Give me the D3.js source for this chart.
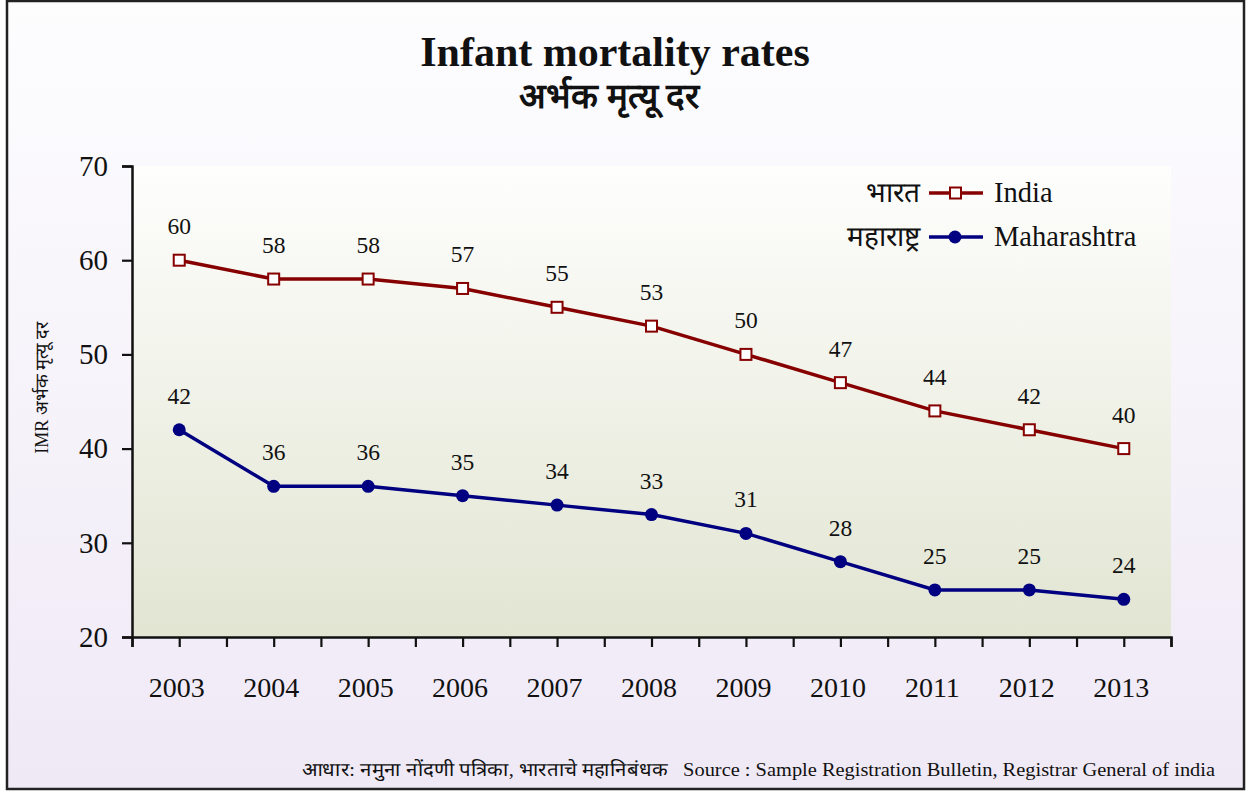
<!DOCTYPE html>
<html>
<head>
<meta charset="utf-8">
<script src="https://cdn.jsdelivr.net/npm/d3@7"></script>
<style>
  body { margin: 0; background: #fff; }
  text { font-family: "Liberation Serif", "Times New Roman", serif; fill: #111; }
</style>
</head>
<body>
<div id="chart"></div>
<script>
// data
const years = [2003, 2004, 2005, 2006, 2007, 2008, 2009, 2010, 2011, 2012, 2013]
const india = [60, 58, 58, 57, 55, 53, 50, 47, 44, 42, 40]
const maharashtra = [42, 36, 36, 35, 34, 33, 31, 28, 25, 25, 24]
const yTicks = [20, 30, 40, 50, 60, 70]

const W = 1247, H = 792
const margin = {top: 166, right: 76, bottom: 155, left: 132}
const width = W - margin.left - margin.right,
      height = H - margin.top - margin.bottom

const svg = d3.select("#chart").append("svg")
  .attr("width", W).attr("height", H)

const defs = svg.append("defs")
const bgGrad = defs.append("linearGradient").attr("id", "bg").attr("x1", 0).attr("y1", 0).attr("x2", 0).attr("y2", 1)
bgGrad.append("stop").attr("offset", "0%").attr("stop-color", "#fdfdfe")
bgGrad.append("stop").attr("offset", "100%").attr("stop-color", "#efe9f6")
const plotGrad = defs.append("linearGradient").attr("id", "plotbg").attr("x1", 0).attr("y1", 0).attr("x2", 0).attr("y2", 1)
plotGrad.append("stop").attr("offset", "0%").attr("stop-color", "#fefefd")
plotGrad.append("stop").attr("offset", "100%").attr("stop-color", "#e2e5d2")

// outer frame
svg.append("rect")
  .attr("x", 7).attr("y", 1).attr("width", W - 10).attr("height", H - 4)
  .attr("fill", "url(#bg)").attr("stroke", "#222").attr("stroke-width", 2.5)

// titles
svg.append("text").attr("x", 615).attr("y", 66).attr("text-anchor", "middle")
  .style("font-size", "42px").style("font-weight", "bold").text("Infant mortality rates")
svg.append("text").attr("x", 609).attr("y", 108).attr("text-anchor", "middle")
  .style("font-size", "35px").style("font-weight", "bold").text("अर्भक मृत्यू दर")

const g = svg.append("g").attr("transform", "translate(" + margin.left + "," + margin.top + ")")

g.append("rect").attr("width", width).attr("height", height).attr("fill", "url(#plotbg)")

// scales
const x = d3.scaleLinear().domain([2002.5, 2013.5]).range([0, width])
const y = d3.scaleLinear().domain([20, 70]).range([height, 0])

// x axis: ticks at every year and at the half years between them
const xTickVals = d3.range(2002.5, 2013.51, 0.5)
const xAxis = g.append("g").attr("transform", "translate(0," + height + ")")
  .call(d3.axisBottom(x).tickValues(xTickVals).tickSize(10).tickSizeOuter(10)
    .tickFormat(d => Number.isInteger(d) ? d : ""))
xAxis.select(".domain").attr("stroke-width", 2.5).attr("stroke", "#111")
xAxis.selectAll(".tick line").attr("stroke-width", 2.2).attr("stroke", "#111")
xAxis.selectAll(".tick text").attr("dy", "0").attr("y", 60).attr("dx", -3).style("font-size", "28px")
  .style("font-family", "Liberation Serif, serif").attr("fill", "#111")

const yAxis = g.append("g")
  .call(d3.axisLeft(y).tickValues(yTicks).tickSize(10).tickSizeOuter(10).tickPadding(14))
yAxis.select(".domain").attr("stroke-width", 2.5).attr("stroke", "#111")
yAxis.selectAll(".tick line").attr("stroke-width", 2.2).attr("stroke", "#111")
yAxis.selectAll(".tick text").style("font-size", "29px")
  .style("font-family", "Liberation Serif, serif").attr("fill", "#111")

// y axis title
svg.append("text")
  .attr("transform", "translate(48,388) rotate(-90)")
  .attr("text-anchor", "middle").style("font-size", "18px")
  .text("IMR अर्भक मृत्यू दर")

const line = d3.line().x(d => x(d.year)).y(d => y(d.value))
const indiaPts = years.map((yr, i) => ({year: yr, value: india[i]}))
const mahaPts = years.map((yr, i) => ({year: yr, value: maharashtra[i]}))

const red = "#860000", blue = "#000080"

g.append("path").datum(indiaPts).attr("d", line)
  .attr("fill", "none").attr("stroke", red).attr("stroke-width", 3.5)
g.append("path").datum(mahaPts).attr("d", line)
  .attr("fill", "none").attr("stroke", blue).attr("stroke-width", 3.5)

g.selectAll(".sq").data(indiaPts).enter().append("rect")
  .attr("x", d => x(d.year) - 5.5).attr("y", d => y(d.value) - 5.5)
  .attr("width", 11).attr("height", 11)
  .attr("fill", "#fff").attr("stroke", red).attr("stroke-width", 2)

g.selectAll(".dot").data(mahaPts).enter().append("circle")
  .attr("cx", d => x(d.year)).attr("cy", d => y(d.value)).attr("r", 6.5)
  .attr("fill", blue)

// value labels
g.selectAll(".lblI").data(indiaPts).enter().append("text")
  .attr("x", d => x(d.year)).attr("y", d => y(d.value) - 26)
  .attr("text-anchor", "middle").style("font-size", "23.5px").text(d => d.value)
g.selectAll(".lblM").data(mahaPts).enter().append("text")
  .attr("x", d => x(d.year)).attr("y", d => y(d.value) - 26)
  .attr("text-anchor", "middle").style("font-size", "23.5px").text(d => d.value)

// legend
const legend = [
  {mr: "भारत", en: "India", color: red, shape: "square", y: 193},
  {mr: "महाराष्ट्र", en: "Maharashtra", color: blue, shape: "circle", y: 237}
]
const lg = svg.append("g")
legend.forEach(l => {
  lg.append("text").attr("x", 920).attr("y", l.y + 9).attr("text-anchor", "end")
    .style("font-size", "28px").text(l.mr)
  lg.append("line").attr("x1", 929).attr("x2", 983).attr("y1", l.y).attr("y2", l.y)
    .attr("stroke", l.color).attr("stroke-width", 3.5)
  if (l.shape === "square") {
    lg.append("rect").attr("x", 950).attr("y", l.y - 5.5).attr("width", 11).attr("height", 11)
      .attr("fill", "#fff").attr("stroke", l.color).attr("stroke-width", 2)
  } else {
    lg.append("circle").attr("cx", 955).attr("cy", l.y).attr("r", 6.5).attr("fill", l.color)
  }
  lg.append("text").attr("x", 994).attr("y", l.y + 9)
    .style("font-size", "28.5px").text(l.en)
})

// source
svg.append("text").attr("x", 302).attr("y", 776)
  .attr("textLength", 913).attr("lengthAdjust", "spacingAndGlyphs")
  .style("font-size", "19px").style("white-space", "pre")
  .text("आधार: नमुना नोंदणी पत्रिका, भारताचे महानिबंधक   Source : Sample Registration Bulletin, Registrar General of india")
</script>
</body>
</html>
